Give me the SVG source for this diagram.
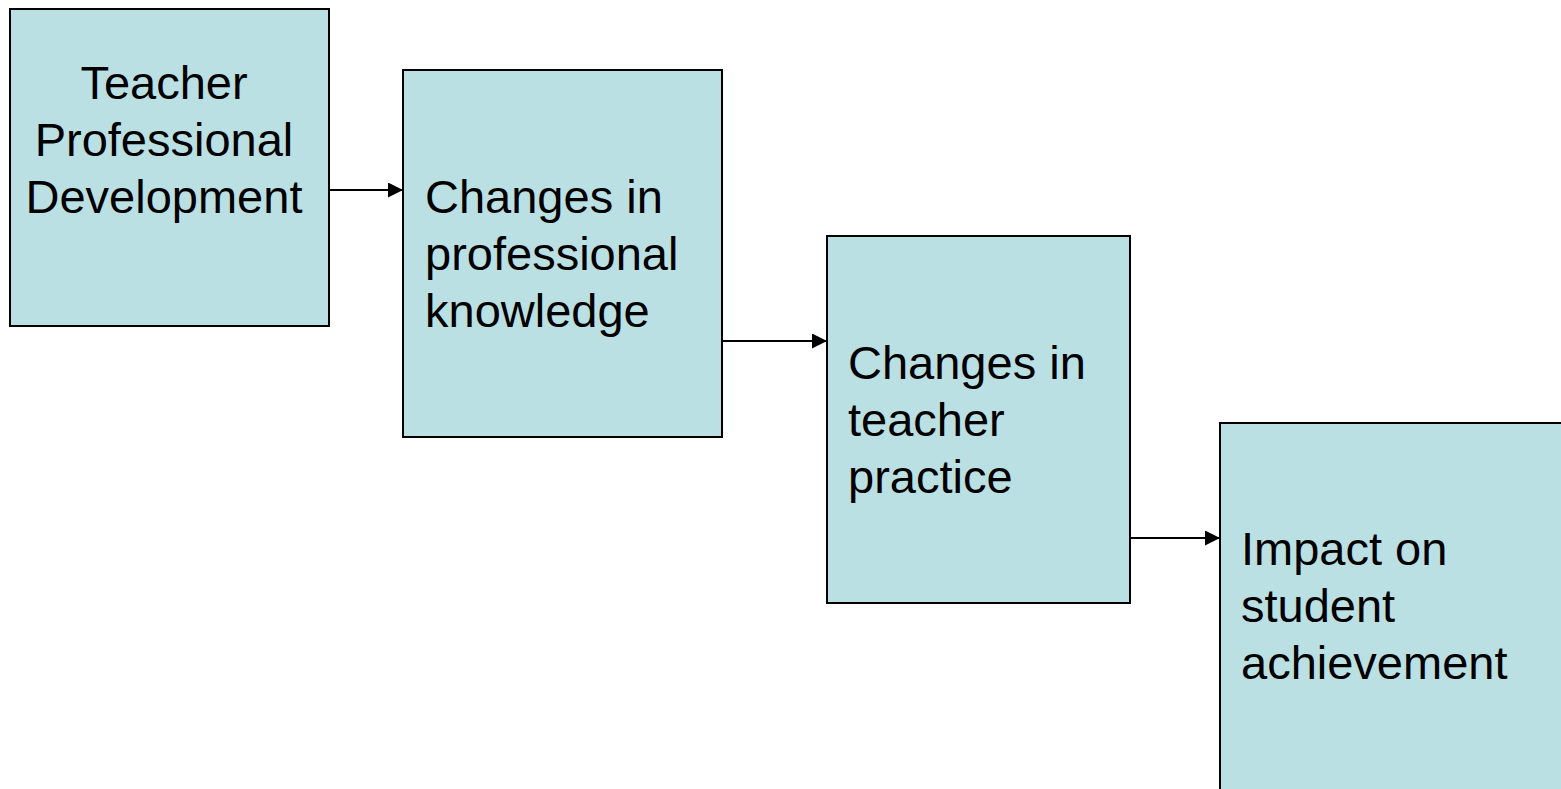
<svg xmlns="http://www.w3.org/2000/svg" width="1561" height="789" viewBox="0 0 1561 789">
<style>
.box{fill:#BBE0E3;stroke:#000;stroke-width:2}
.lbl{font-family:"Liberation Sans",Arial,sans-serif;font-size:47px;fill:#000}
.conn{stroke:#000;stroke-width:2;fill:none}
</style>
<defs>
<marker id="arr" markerUnits="userSpaceOnUse" markerWidth="16" markerHeight="16" refX="15" refY="7.5" orient="auto">
<path d="M0,0 L15,7.5 L0,15 Z" fill="#000"/>
</marker>
</defs>
<rect width="1561" height="789" fill="#fff"/>
<g id="n1">
<rect class="box" x="10" y="9" width="319" height="317"/>
<text class="lbl" text-anchor="middle"><tspan x="164" y="99">Teacher</tspan><tspan x="164" y="156">Professional</tspan><tspan x="164" y="213">Development</tspan></text>
</g>
<g id="n2">
<rect class="box" x="403" y="70" width="319" height="367"/>
<text class="lbl"><tspan x="425" y="213">Changes in</tspan><tspan x="425" y="270">professional</tspan><tspan x="425" y="327">knowledge</tspan></text>
</g>
<g id="n3">
<rect class="box" x="827" y="236" width="303" height="367"/>
<text class="lbl"><tspan x="848" y="379">Changes in</tspan><tspan x="848" y="436">teacher</tspan><tspan x="848" y="493">practice</tspan></text>
</g>
<g id="n4">
<rect class="box" x="1220" y="423" width="400" height="420"/>
<text class="lbl"><tspan x="1241" y="565">Impact on</tspan><tspan x="1241" y="622">student</tspan><tspan x="1241" y="679">achievement</tspan></text>
</g>
<g id="connectors">
<line class="conn" x1="329" y1="190" x2="403" y2="190" marker-end="url(#arr)"/>
<line class="conn" x1="722" y1="341" x2="827" y2="341" marker-end="url(#arr)"/>
<line class="conn" x1="1130" y1="538" x2="1220" y2="538" marker-end="url(#arr)"/>
</g>
</svg>
